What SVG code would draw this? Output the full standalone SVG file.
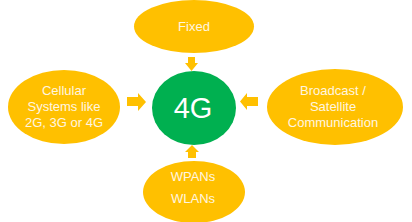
<svg xmlns="http://www.w3.org/2000/svg" width="412" height="222" viewBox="0 0 412 222">
<style>
.o{fill:#FFC000}
.t{fill:#FFF6E0;font-family:"Liberation Sans",Arial,sans-serif;font-size:13px;text-anchor:middle}
.a{fill:#FFC000}
</style>
<rect width="412" height="222" fill="#fff"/>
<g id="connectors">
<polygon class="a" points="188,57 195,57 195,63 198,63 191.5,71 185,63 188,63"/>
<polygon class="a" points="127,97 138,97 138,93 146,102 138,111 138,106 127,106"/>
<polygon class="a" points="258,97 247,97 247,93 240,101.5 247,110 247,106 258,106"/>
<polygon class="a" points="188,158 196,158 196,152 199,152 192,145 185,152 188,152"/>
</g>
<g id="fixed">
<ellipse class="o" cx="194" cy="26.5" rx="60" ry="26.5"/>
<text class="t" x="194" y="31">Fixed</text>
</g>
<g id="cellular">
<ellipse class="o" cx="64" cy="107" rx="56" ry="37"/>
<text class="t" x="64" y="95">Cellular</text>
<text class="t" x="64" y="111">Systems like</text>
<text class="t" x="64" y="127">2G, 3G or 4G</text>
</g>
<g id="g4">
<ellipse cx="194" cy="108" rx="42" ry="37" fill="#00B050"/>
<text x="193" y="118" fill="#fff" font-family="Liberation Sans,Arial,sans-serif" font-size="29" text-anchor="middle">4G</text>
</g>
<g id="broadcast">
<ellipse class="o" cx="335" cy="107" rx="68" ry="38"/>
<text class="t" x="333" y="95">Broadcast /</text>
<text class="t" x="333" y="111">Satellite</text>
<text class="t" x="333" y="127">Communication</text>
</g>
<g id="wlan">
<ellipse class="o" cx="194" cy="192" rx="51" ry="31"/>
<text class="t" x="193" y="181">WPANs</text>
<text class="t" x="193" y="203">WLANs</text>
</g>
</svg>
